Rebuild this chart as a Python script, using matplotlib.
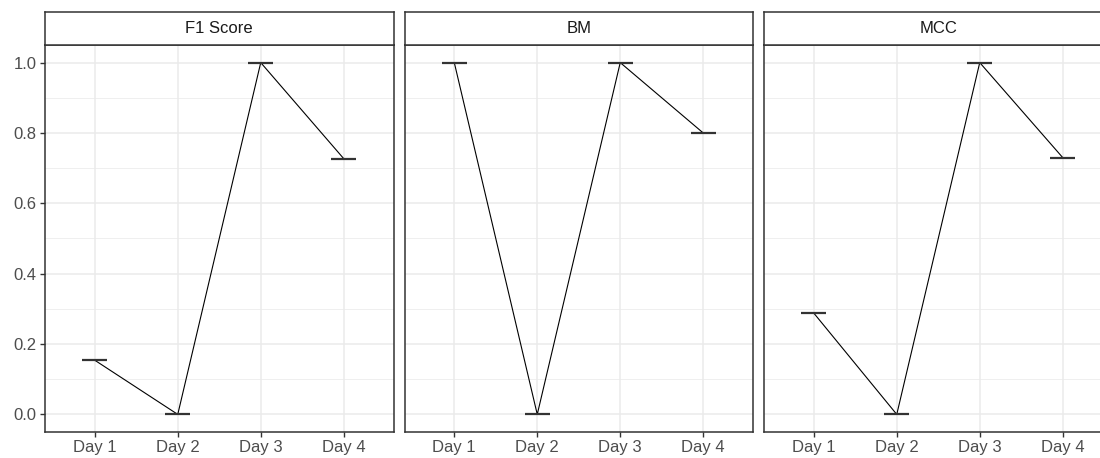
import matplotlib
matplotlib.use("Agg")
import matplotlib.pyplot as plt
from matplotlib.ticker import MultipleLocator

plt.rcParams['font.family'] = ['Liberation Sans', 'DejaVu Sans']

days = ["Day 1", "Day 2", "Day 3", "Day 4"]
metrics = ["F1 Score", "BM", "MCC"]
f1_values = [0.154, 0.0, 1.0, 0.727]
bm_values = [1.0, 0.0, 1.0, 0.8]
mcc_values = [0.288, 0.0, 1.0, 0.730]
yticks = [0.0, 0.2, 0.4, 0.6, 0.8, 1.0]
series = [f1_values, bm_values, mcc_values]

W, H = 1100, 458
fig = plt.figure(figsize=(W / 100, H / 100), dpi=100)

panel_w = 348.5
lefts = [45, 404.5, 764]
bottom, top, strip_top = 432, 45, 12
border = "#333333"

for i, (name, vals) in enumerate(zip(metrics, series)):
    ax = fig.add_axes([lefts[i] / W, (H - bottom) / H, panel_w / W, (bottom - top) / H])
    x = list(range(1, len(days) + 1))
    ax.set_xlim(0.4, 4.6)
    ax.set_ylim(-0.05, 1.05)
    ax.yaxis.set_minor_locator(MultipleLocator(0.1))
    ax.set_yticks(yticks)
    ax.grid(which='major', color='#EBEBEB', linewidth=1.1, zorder=0)
    ax.grid(which='minor', axis='y', color='#EBEBEB', linewidth=0.55, zorder=0)
    ax.set_xticks(x)
    ax.set_xticklabels(days)
    ax.plot(x, vals, color='black', linewidth=0.8, zorder=3)
    ax.hlines(vals, [xi - 0.15 for xi in x], [xi + 0.15 for xi in x],
              color='#333333', linewidth=1.6, zorder=4)
    for s in ax.spines.values():
        s.set_color(border)
        s.set_linewidth(1.1)
    ax.tick_params(axis='both', which='major', color=border, length=3.5, width=1.0,
                   labelcolor='#4D4D4D', labelsize=12, pad=2.5)
    ax.tick_params(axis='y', which='minor', length=0)
    if i == 0:
        ax.set_yticklabels([f"{v:.1f}" for v in yticks])
    else:
        ax.tick_params(axis='y', which='major', length=0, labelleft=False)
    ax.set_axisbelow(True)

    sax = fig.add_axes([lefts[i] / W, (H - top) / H, panel_w / W, (top - strip_top) / H])
    sax.set_xticks([])
    sax.set_yticks([])
    sax.set_facecolor('white')
    for s in sax.spines.values():
        s.set_color(border)
        s.set_linewidth(1.1)
    sax.text(0.5, 0.5, name, ha='center', va='center', fontsize=12,
             color='#1A1A1A', transform=sax.transAxes)

fig.savefig("out.png", dpi=100)
